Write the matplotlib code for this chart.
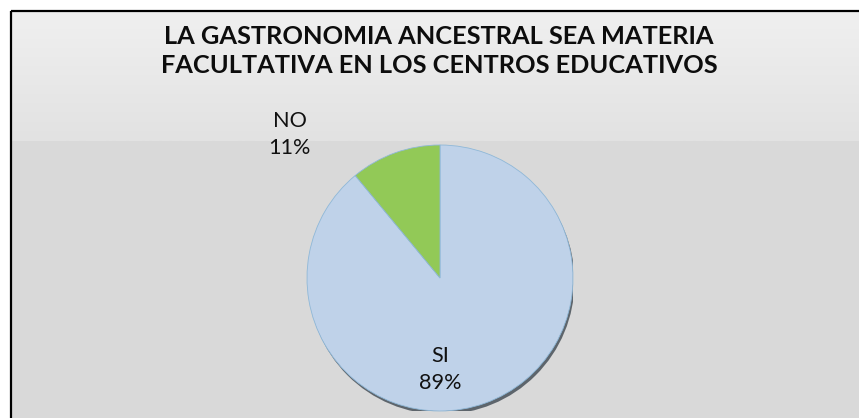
import numpy as np
import matplotlib
matplotlib.use("Agg")
import matplotlib.pyplot as plt
from matplotlib.patches import Ellipse
from matplotlib.colors import LinearSegmentedColormap

# Data
title = "LA GASTRONOMIA ANCESTRAL SEA MATERIA\nFACULTATIVA EN LOS CENTROS EDUCATIVOS"
categories = ["SI", "NO"]
percentages = [89, 11]
colors = ["#bfd2e9", "#92c957"]

W, H = 859, 418
fig = plt.figure(figsize=(W / 100, H / 100), dpi=100)
fig.patch.set_facecolor("white")

# Background axes in pixel coordinates
bg = fig.add_axes([0, 0, 1, 1])
bg.set_xlim(0, W)
bg.set_ylim(H, 0)
bg.axis("off")
bg.add_patch(plt.Rectangle((10, 10), W, H, facecolor="#d9d9d9", edgecolor="none", zorder=0))
grad = np.linspace(0, 1, 100).reshape(-1, 1)
cmap = LinearSegmentedColormap.from_list("g", ["#f0f0f0", "#e2e2e2"])
bg.imshow(grad, cmap=cmap, extent=(10, W, 141, 10), aspect="auto", zorder=1)
bg.plot([10.5, 10.5], [H, 10.5], color="black", lw=1.6, solid_capstyle="butt", zorder=3)
bg.plot([10.5, W], [10.5, 10.5], color="black", lw=1.6, solid_capstyle="butt", zorder=3)
bg.text(439, 51, title, ha="center", va="center", fontsize=18.3, fontweight="bold",
        family="Lato", color="#0d0d0d", linespacing=1.3, zorder=4)

# Pie axes
cx, cy, r = 440, 278, 133
ax = fig.add_axes([(cx - r) / W, (H - cy - r) / H, 2 * r / W, 2 * r / H])
ax.set_xlim(-1, 1)
ax.set_ylim(-1, 1)
ax.set_aspect("equal")
ax.axis("off")
ax.add_patch(Ellipse((0.012, -0.025), 2.0, 2.0, facecolor="#505860", edgecolor="none", alpha=0.9, zorder=0))
wedges, _ = ax.pie(percentages, colors=colors, startangle=90, counterclock=False,
                   radius=1.0, wedgeprops=dict(edgecolor="#8fb8d8", linewidth=0.6))
for w in wedges:
    w.set_zorder(2)
ax.set_xlim(-1, 1)
ax.set_ylim(-1, 1)

label_pos = {"SI": (0.0, -0.69), "NO": (-1.13, 1.08)}
for cat, pct in zip(categories, percentages):
    x, y = label_pos[cat]
    ax.text(x, y, f"{cat}\n{pct}%", ha="center", va="center", fontsize=15.6,
            family="Lato", color="#111111", linespacing=1.45, clip_on=False, zorder=5)

fig.savefig("out.png", dpi=100, facecolor="white")
